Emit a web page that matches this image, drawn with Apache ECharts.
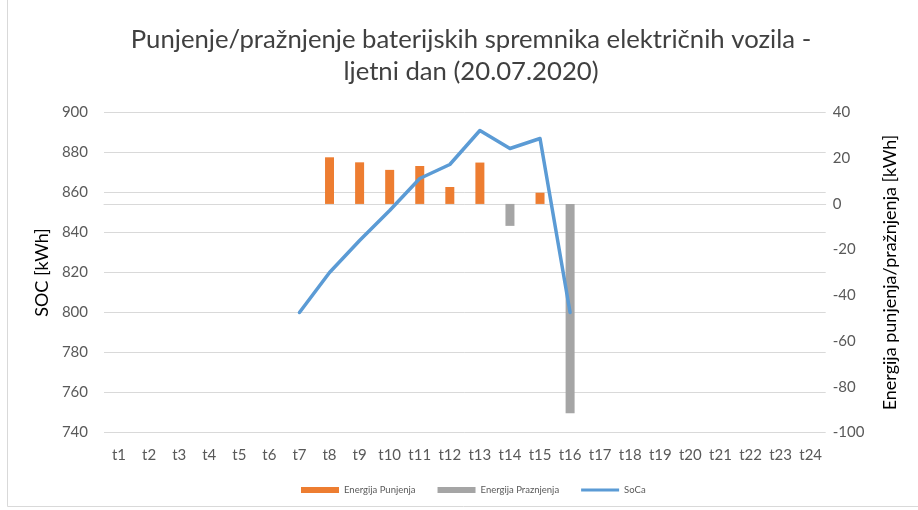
<!DOCTYPE html>
<html><head><meta charset="utf-8">
<script src="https://cdn.jsdelivr.net/npm/echarts@6/dist/echarts.min.js"></script>
<style>html,body{margin:0;padding:0;background:#fff}#c{width:918px;height:510px}</style>
</head><body><div id="c"></div>
<script>
const categories = ['t1','t2','t3','t4','t5','t6','t7','t8','t9','t10','t11','t12','t13','t14','t15','t16','t17','t18','t19','t20','t21','t22','t23','t24'];
const energijaPunjenja = [null,null,null,null,null,null,null,20.4,18.2,14.9,16.6,7.4,18.1,null,4.9,null,null,null,null,null,null,null,null,null];
const energijaPraznjenja = [null,null,null,null,null,null,null,null,null,null,null,null,null,-9.6,null,-91.6,null,null,null,null,null,null,null,null];
const soca = [null,null,null,null,null,null,800,820,836,851,867,874,891,882,887,800,null,null,null,null,null,null,null,null];
const leftTicks = {min:740, max:900, interval:20};
const rightTicks = {min:-100, max:40, interval:20};

const FONT = 'Lato';
const TXT = '#595959';
const chart = echarts.init(document.getElementById('c'), null, {renderer:'canvas'});
chart.setOption({
  animation:false,
  textStyle:{fontFamily:FONT},
  title:{
    text:'Punjenje/pražnjenje baterijskih spremnika električnih vozila -\nljetni dan (20.07.2020)',
    left:466, textAlign:'center', top:19,
    textStyle:{fontFamily:FONT, fontSize:25.7, fontWeight:'normal', color:'#404040', lineHeight:32}
  },
  graphic:[{type:'rect', shape:{x:7.5,y:-5,width:920,height:511.5}, style:{fill:'none', stroke:'#D9D9D9', lineWidth:1}}],
  legend:{
    bottom:10, left:296, itemGap:22, itemWidth:38, itemHeight:6, symbolKeepAspect:true,
    textStyle:{fontFamily:FONT, fontSize:9.5, color:TXT},
    data:[{name:'Energija Punjenja', icon:'rect'},{name:'Energija Praznjenja', icon:'rect'},
          {name:'SoCa', icon:'path://M0,0L40,0L40,3L0,3Z'}]
  },
  grid:{left:104, right:92.3, top:112.5, bottom:77.5},
  xAxis:{
    type:'category', data:categories,
    axisLine:{lineStyle:{color:'#D9D9D9'}}, axisTick:{show:false},
    axisLabel:{color:TXT, fontSize:15, margin:15, interval:0}
  },
  yAxis:[
    {type:'value', min:leftTicks.min, max:leftTicks.max, interval:leftTicks.interval,
     name:'SOC [kWh]', nameLocation:'middle', nameGap:52,
     nameTextStyle:{fontFamily:FONT, fontSize:18, color:'#000'},
     axisLine:{show:false}, axisTick:{show:false},
     axisLabel:{color:TXT, fontSize:15, margin:16},
     splitLine:{lineStyle:{color:'#D9D9D9', width:1}}},
    {type:'value', min:rightTicks.min, max:rightTicks.max, interval:rightTicks.interval,
     name:'Energija punjenja/pražnjenja [kWh]', nameLocation:'middle', nameGap:55,
     nameTextStyle:{fontFamily:FONT, fontSize:18, color:'#000'},
     axisLine:{show:false}, axisTick:{show:false},
     axisLabel:{color:TXT, fontSize:15, margin:7},
     splitLine:{show:false}}
  ],
  series:[
    {name:'Energija Punjenja', type:'bar', yAxisIndex:1, stack:'e', data:energijaPunjenja, barWidth:9, itemStyle:{color:'#ED7D31'}},
    {name:'Energija Praznjenja', type:'bar', yAxisIndex:1, stack:'e', data:energijaPraznjenja, barWidth:9, itemStyle:{color:'#A5A5A5'}},
    {name:'SoCa', type:'line', yAxisIndex:0, data:soca, symbol:'none', showSymbol:false, lineStyle:{color:'#5B9BD5', width:3.5, cap:'round', join:'round'}, itemStyle:{color:'#5B9BD5'}}
  ]
});
</script></body></html>
